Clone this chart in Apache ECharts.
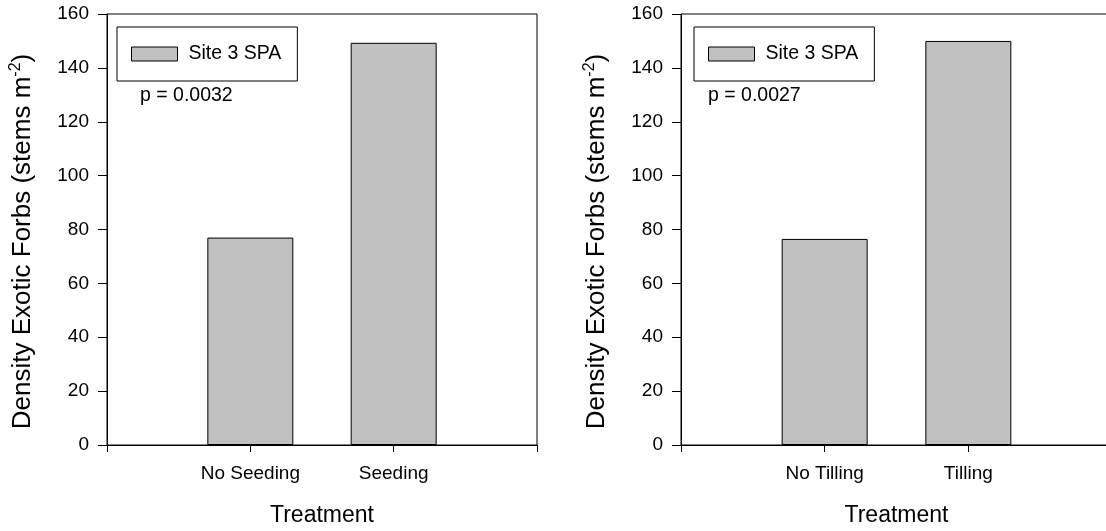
<!DOCTYPE html>
<html>
<head>
<meta charset="utf-8">
<script src="https://cdn.jsdelivr.net/npm/echarts@6/dist/echarts.min.js"></script>
<style>
html,body{margin:0;padding:0;background:#fff;}
#chart{width:1106px;height:531px;}
</style>
</head>
<body>
<div id="chart"></div>
<script>
// ---- data ----
const leftCategories = ['No Seeding', 'Seeding'];
const leftValues = [77, 149.3];
const rightCategories = ['No Tilling', 'Tilling'];
const rightValues = [76.5, 150];
const seriesName = 'Site 3 SPA';
const leftP = 'p = 0.0032';
const rightP = 'p = 0.0027';
const yTitle = 'Density Exotic Forbs (stems m{sup|-2})';
const xTitle = 'Treatment';
const yMin = 0, yMax = 160, yStep = 20;

const FONT = 'Liberation Sans, Arial, Helvetica, sans-serif';
const chart = echarts.init(document.getElementById('chart'));

function xAxisFor(idx, cats) {
  return {
    type: 'value', gridIndex: idx, min: 0, max: cats.length + 1, interval: 1,
    name: xTitle, nameLocation: 'middle', nameGap: 59,
    nameTextStyle: {fontFamily: FONT, fontSize: 23, color: '#000'},
    axisLine: {lineStyle: {color: '#000', width: 1}},
    axisTick: {show: true, length: 7, lineStyle: {color: '#000'}},
    axisLabel: {fontFamily: FONT, fontSize: 19, color: '#000', margin: 19,
      formatter: v => (v >= 1 && v <= cats.length) ? cats[v - 1] : ''},
    splitLine: {show: false}
  };
}
function yAxisFor(idx) {
  return {
    type: 'value', gridIndex: idx, min: yMin, max: yMax, interval: yStep,
    name: yTitle, nameLocation: 'middle', nameGap: 69, nameRotate: 90,
    nameTextStyle: {fontFamily: FONT, fontSize: 26, color: '#000', lineHeight: 30,
      padding: [0, 24, 0, 0],
      rich: {sup: {fontFamily: FONT, fontSize: 16, color: '#000', verticalAlign: 'top', lineHeight: 30}}},
    axisLine: {show: true, lineStyle: {color: '#000', width: 1}},
    axisTick: {show: true, length: 9, lineStyle: {color: '#000'}},
    axisLabel: {fontFamily: FONT, fontSize: 19, color: '#000', margin: 18},
    splitLine: {show: false}
  };
}
function seriesFor(idx, vals) {
  return {
    name: seriesName, type: 'bar', xAxisIndex: idx, yAxisIndex: idx,
    barWidth: 86,
    itemStyle: {color: '#c0c0c0', borderColor: '#000', borderWidth: 1},
    data: vals.map((v, i) => [i + 1, v]),
    silent: true
  };
}
function legendFor(left) {
  return {
    left: left, top: 27, orient: 'horizontal',
    data: [{name: seriesName, icon: 'rect'}],
    itemWidth: 46, itemHeight: 14,
    padding: [17, 16, 17, 14],
    borderColor: '#000', borderWidth: 1, backgroundColor: '#fff',
    selectedMode: false,
    textStyle: {fontFamily: FONT, fontSize: 19.5, color: '#000', padding: [0, 0, 0, 6]},
    itemStyle: {color: '#c0c0c0', borderColor: '#000', borderWidth: 1}
  };
}

chart.setOption({
  animation: false,
  backgroundColor: '#fff',
  grid: [
    {left: 107, top: 14, width: 430, height: 431, show: true, borderColor: '#000', borderWidth: 1,
     backgroundColor: 'transparent', outerBoundsMode: 'none', containLabel: false},
    {left: 681, top: 14, width: 431, height: 431, show: true, borderColor: '#000', borderWidth: 1,
     backgroundColor: 'transparent', outerBoundsMode: 'none', containLabel: false}
  ],
  xAxis: [xAxisFor(0, leftCategories), xAxisFor(1, rightCategories)],
  yAxis: [yAxisFor(0), yAxisFor(1)],
  legend: [legendFor(117), legendFor(694)],
  series: [seriesFor(0, leftValues), seriesFor(1, rightValues)],
  graphic: [
    {type: 'text', left: 140, top: 86, style: {text: leftP, fontFamily: FONT, fontSize: 19.5, fill: '#000'}},
    {type: 'text', left: 708, top: 86, style: {text: rightP, fontFamily: FONT, fontSize: 19.5, fill: '#000'}}
  ]
});
</script>
</body>
</html>
